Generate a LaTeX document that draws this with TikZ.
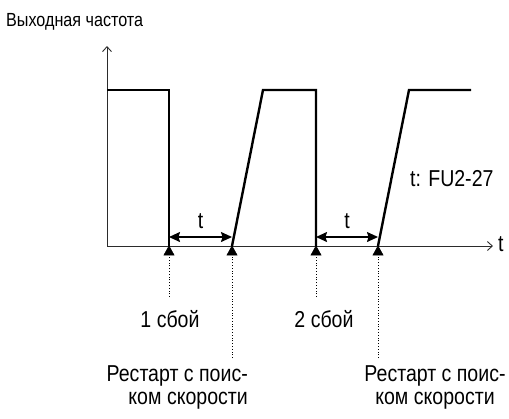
\documentclass[tikz,border=0pt]{standalone}
\usepackage{fontspec}
\setmainfont{Liberation Sans}[FakeStretch=0.85]
\usetikzlibrary{arrows.meta, positioning}
\definecolor{cblack}{HTML}{000000}
\definecolor{caxis}{HTML}{2B2B2B}
\tikzset{
  every picture/.style={font=\fontsize{23bp}{23bp}\selectfont, x=1bp, y=-1bp},
  axis/.style={draw=caxis, line width=0.9bp, -{Straight Barb[length=5bp, width=9bp]}},
  signal/.style={draw=cblack, line width=2.4bp, line join=miter},
  span/.style={{Stealth[length=11bp, width=10bp, inset=1.5bp]}-{Stealth[length=11bp, width=10bp, inset=1.5bp]}, draw=cblack, line width=1.3bp},
  event/.style={draw=cblack, dotted, line width=0.8bp},
  evtip/.style={draw=cblack, fill=cblack, solid, line width=0.6bp},
  txt/.style={inner sep=0pt, text=cblack},
  title/.style={txt, font=\fontsize{19bp}{23bp}\selectfont},
}

\begin{document}
\begin{tikzpicture}
  \useasboundingbox (0,0) rectangle (509,418);
  % axes
  \coordinate (o) at (107,246);
  \coordinate (xend) at (493,246);
  \coordinate (yend) at (107,46);
  \draw[axis] (o) -- (xend);
  \draw[axis] (o) -- (yend);
  \node[title, anchor=base west] (ytitle) at (6,26) {Выходная частота};
  \node[txt, anchor=west] (tlab) at (498,244) {t};
  % events on the time axis
  \coordinate (f1) at (169,246); \coordinate (r1) at (232,246);
  \coordinate (f2) at (316,246); \coordinate (r2) at (378,246);
  % output frequency
  \draw[signal] (107,90) -- (169,90) -- (f1);
  \draw[signal] (r1) -- (263,90) -- (316,90) -- (f2);
  \draw[signal] (r2) -- (409,90) -- (471,90);
  \node[txt, anchor=west] (note) at (410,179) {t: FU2-27};
  % waiting time
  \coordinate (s1a) at (169,237); \coordinate (s1b) at (232,237);
  \coordinate (s2a) at (316,237); \coordinate (s2b) at (378,237);
  \draw[span] (s1a) -- node[txt, above=8bp] (t1) {t} (s1b);
  \draw[span] (s2a) -- node[txt, above=8bp] (t2) {t} (s2b);
  % failure and restart marks
  \coordinate (f1b) at (169,297); \coordinate (f2b) at (316,297);
  \coordinate (r1b) at (232,358); \coordinate (r2b) at (378,358);
  \draw[event] (f1b) -- (f1);
  \draw[event] (f2b) -- (f2);
  \draw[event] (r1b) -- (r1);
  \draw[event] (r2b) -- (r2);
  \foreach \e in {f1, f2, r1, r2}
    \draw[evtip] (\e) -- ++(-5,9) -- ++(10,0) -- cycle;
  \node[txt, anchor=base] (f1lab) at (170,327) {1 сбой};
  \node[txt, anchor=base] (f2lab) at (324,327) {2 сбой};
  \node[txt, anchor=north east, align=right] (r1lab) at (248,365) {Рестарт с поис-\\ком скорости};
  \node[txt, anchor=north, align=center] (r2lab) at (435,365) {Рестарт с поис-\\ком скорости};
\end{tikzpicture}
\end{document}
